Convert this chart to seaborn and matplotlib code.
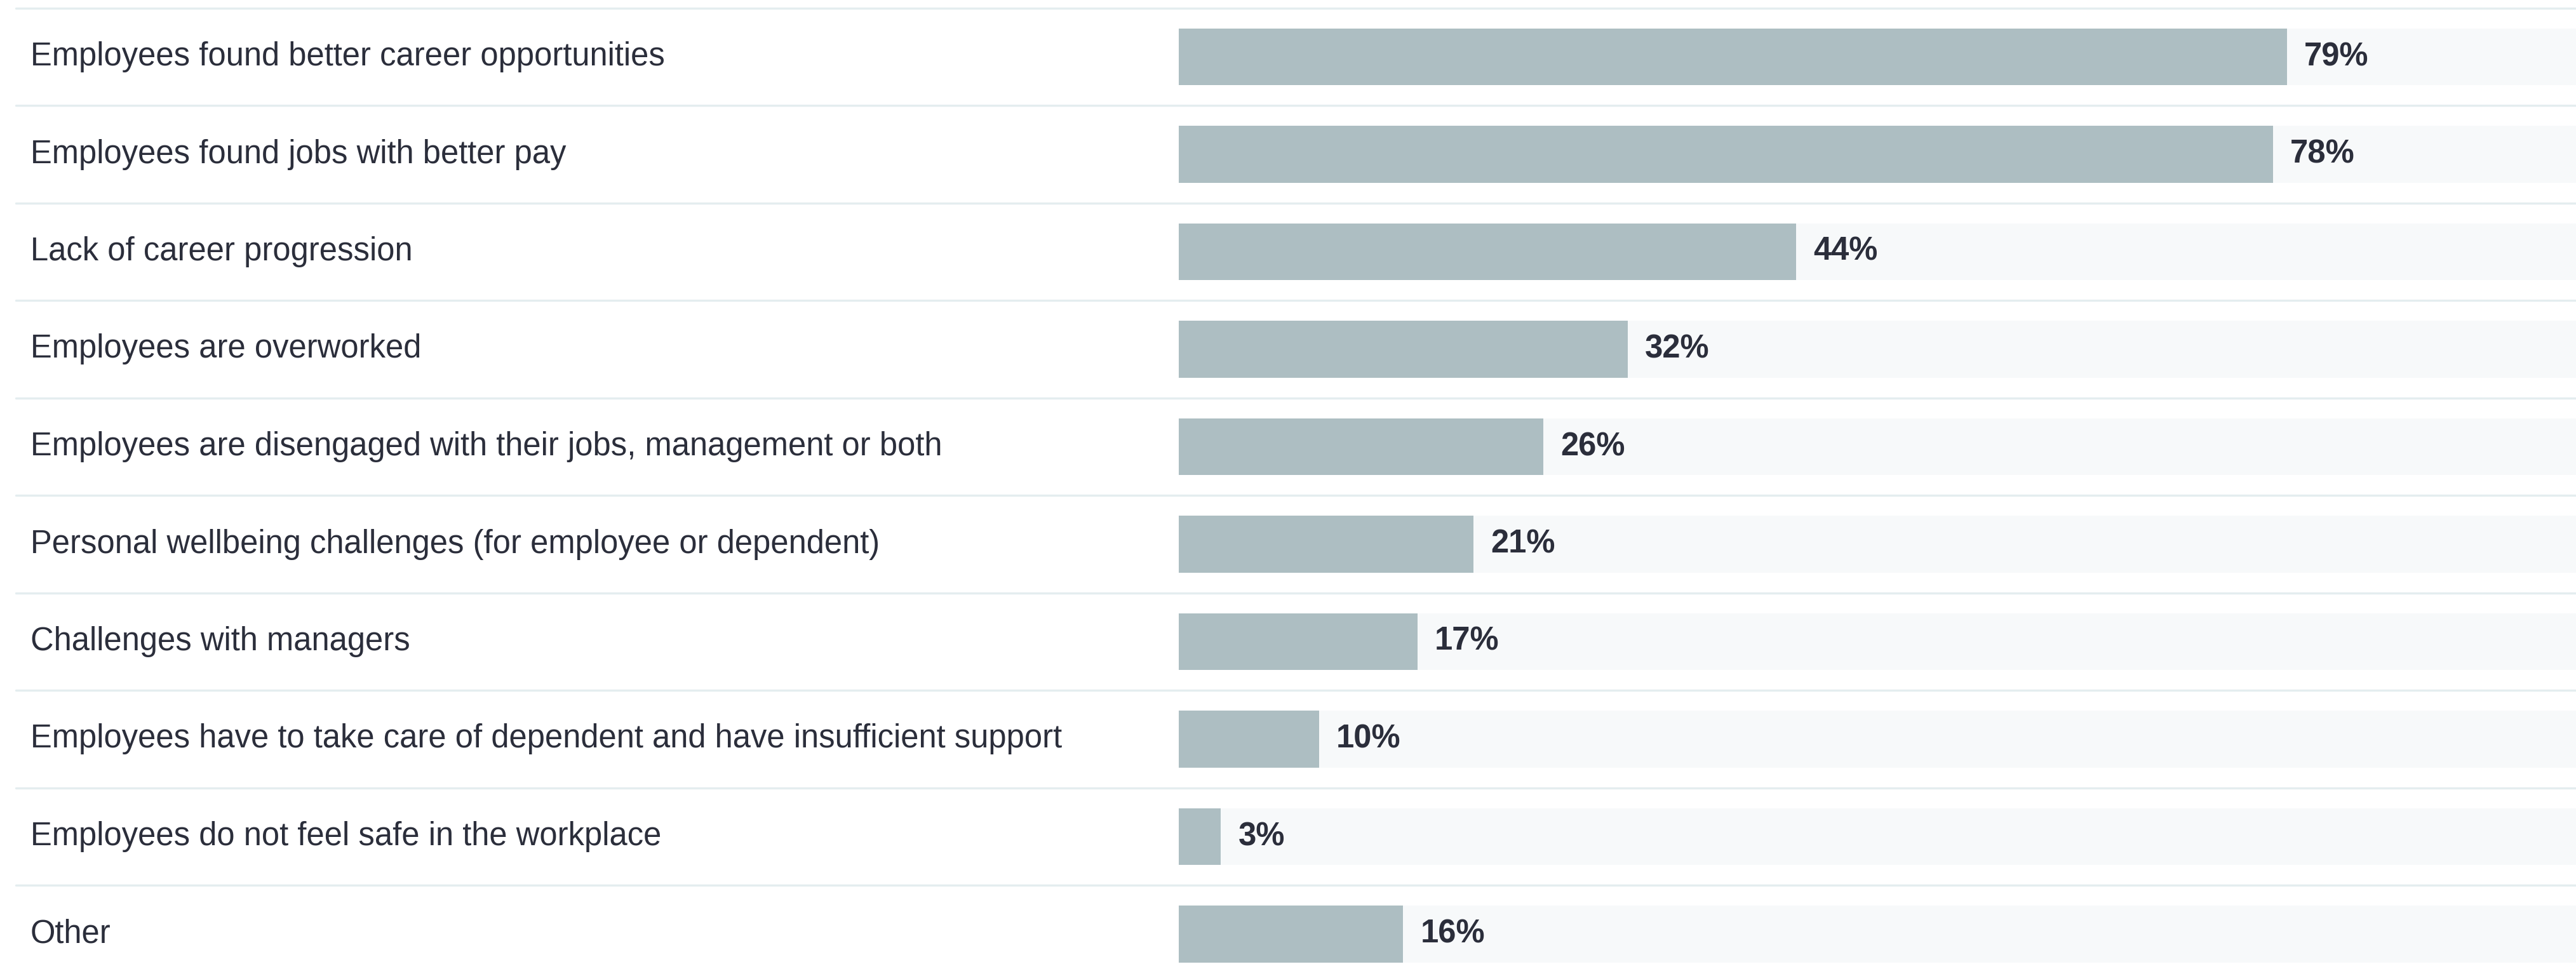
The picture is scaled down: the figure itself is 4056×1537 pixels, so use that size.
import matplotlib
matplotlib.use("Agg")
import matplotlib.pyplot as plt
import matplotlib.transforms as mtransforms
import seaborn as sns
import pandas as pd

# Survey results: reasons employees left
reasons = [
    "Employees found better career opportunities",
    "Employees found jobs with better pay",
    "Lack of career progression",
    "Employees are overworked",
    "Employees are disengaged with their jobs, management or both",
    "Personal wellbeing challenges (for employee or dependent)",
    "Challenges with managers",
    "Employees have to take care of dependent and have insufficient support",
    "Employees do not feel safe in the workplace",
    "Other",
]
shares = [79, 78, 44, 32, 26, 21, 17, 10, 3, 16]
full_scale = [100] * len(reasons)

BAR_COLOR = "#adbec2"
TRACK_COLOR = "#f7f9fa"
TEXT_COLOR = "#2b2e3b"
RULE_COLOR = "#e4edef"

sns.set_theme(style="white")
plt.rcParams["font.family"] = ["Liberation Sans", "DejaVu Sans"]

W, H, DPI = 4056, 1537, 100
fig = plt.figure(figsize=(W / DPI, H / DPI), dpi=DPI, facecolor="white")

bar_left_px = 1856
ax = fig.add_axes([bar_left_px / W, 0.0, 1.0 - bar_left_px / W, 1.0])
ax.patch.set_alpha(0.0)
ax.set_zorder(2)

df = pd.DataFrame({"reason": reasons, "share": shares, "full": full_scale})

# background track, then the value bar on top
sns.barplot(data=df, y="reason", x="full", orient="h", color=TRACK_COLOR,
            width=0.586, ax=ax, saturation=1, linewidth=0)
sns.barplot(data=df, y="reason", x="share", orient="h", color=BAR_COLOR,
            width=0.586, ax=ax, saturation=1, linewidth=0)

# row pitch 153.5 px, first row centred 89.5 px from the top
pitch, first = 153.5, 89.5
ax.set_ylim((H - first) / pitch, -first / pitch)
ax.set_xlim(0, 99.6)
ax.set_xticks([])
ax.set_yticks([])
ax.set_xlabel("")
ax.set_ylabel("")
for s in ax.spines.values():
    s.set_visible(False)

# value labels
for i, v in enumerate(shares):
    ax.annotate(f"{v}%", xy=(v, i), xytext=(19.5, 0), textcoords="offset points",
                ha="left", va="center", fontsize=36.5, fontweight="bold",
                color=TEXT_COLOR)

# category labels in the left column
lab_tr = mtransforms.blended_transform_factory(fig.transFigure, ax.transData)
for i, r in enumerate(reasons):
    fig.text(48 / W, i, r, transform=lab_tr, ha="left", va="center",
             fontsize=36.5, color=TEXT_COLOR)

# row separators across the full width
for i in range(len(reasons)):
    y = i - 0.5
    line = plt.Line2D([25 / W, 1.0], [y, y], transform=lab_tr, color=RULE_COLOR,
                      linewidth=2.4, zorder=1)
    fig.add_artist(line)

fig.savefig("out.png", dpi=DPI, facecolor="white")
